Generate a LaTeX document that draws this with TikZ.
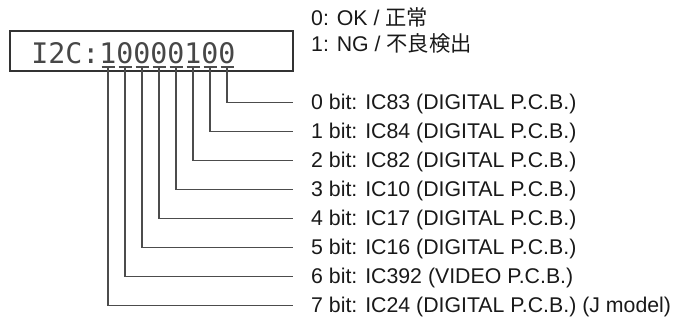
\documentclass[tikz,border=0pt]{standalone}
\usepackage{fontspec}
\setmainfont{Liberation Sans}
\newfontfamily\jpfont{Noto Sans CJK JP}
\newfontfamily\lcdfont{DejaVu Sans Mono}
\usetikzlibrary{calc}
\begin{document}
\begin{tikzpicture}[x=1pt,y=-1pt,
  lbl/.style={anchor=base west,inner sep=0pt,font=\fontsize{21.3}{25}\selectfont,text=black!90},
  lcd/.style={anchor=base,inner sep=0pt,font=\lcdfont\fontsize{28.3}{30}\selectfont,text=black!72},
  conn/.style={draw=black!70,line width=1.2pt},
  frame/.style={draw=black!80,line width=1.3pt,minimum width=283pt,minimum height=40pt,inner sep=0pt}]
\useasboundingbox (0,0) rectangle (689,322);
% legend
\node[lbl] (ok) at (311,25) {0: OK / {\jpfont 正常}};
\node[lbl] (ng) at (311,51) {1: NG / {\jpfont 不良検出}};
% display box
\node[frame] (box) at (151.5,51) {};
\foreach \c [count=\i from 0] in {I,2,C,:,1,0,0,0,0,1,0,0}
  \node[lcd] (c\i) at (40+17*\i,63) {\c};
% bit labels and connectors
\foreach \b/\t in {0/{IC83 (DIGITAL P.C.B.)},1/{IC84 (DIGITAL P.C.B.)},2/{IC82 (DIGITAL P.C.B.)},3/{IC10 (DIGITAL P.C.B.)},4/{IC17 (DIGITAL P.C.B.)},5/{IC16 (DIGITAL P.C.B.)},6/{IC392 (VIDEO P.C.B.)},7/{IC24 (DIGITAL P.C.B.) (J model)}}{
  \pgfmathtruncatemacro{\n}{11-\b}
  \coordinate (u\b) at ($(c\n.base)+(0,4)$);
  \coordinate (e\b) at (293,102.5+29*\b);
  \node[lbl] (l\b) at (311,109+29*\b) {\b\ bit: \t};
  \draw[conn] ([xshift=-6.5pt]u\b) -- ([xshift=6.5pt]u\b);
  \draw[conn] (u\b) |- (e\b);
}
\end{tikzpicture}
\end{document}
